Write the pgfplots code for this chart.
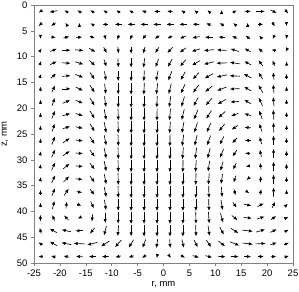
\documentclass[border=0pt]{standalone}
\usepackage{fontspec}
\setmainfont{Liberation Sans}
\usepackage{pgfplots}
\pgfplotsset{compat=1.18}
\usetikzlibrary{arrows.meta}
\begin{document}
\begin{tikzpicture}
\begin{axis}[name=ax, scale only axis, width=259bp, height=258bp,
  xmin=-25, xmax=25, ymin=0, ymax=50, y dir=reverse,
  xtick={-25,-20,...,25}, ytick={0,5,...,50},
  tick align=outside, xtick pos=bottom, ytick pos=left, major tick length=3bp,
  axis line style={gray, line width=0.6bp}, every tick/.style={gray, line width=0.6bp},
  tick label style={font=\fontsize{9.5}{11}\selectfont, /pgf/number format/assume math mode=true},
  xlabel={r, mm}, ylabel={z, mm},
  label style={font=\fontsize{9.5}{11}\selectfont},
  xlabel style={at={(axis description cs:0.5,-0.085)}, anchor=center},
  ylabel style={at={(axis description cs:-0.112,0.5)}, anchor=center},
]
\addplot[black, line width=0.65bp, -{Latex[length=4bp,width=3.4bp]},
  quiver={u=\thisrow{u}, v=\thisrow{v}}]
  table[x expr=\thisrow{r}-0.5*\thisrow{u}, y expr=\thisrow{z}-0.5*\thisrow{v}] {
r z u v
-23.75 1.25 -0.7 0.5
-21.25 1.25 -1.5 0.3
-18.75 1.25 -0.8 -0.4
-16.25 1.25 -0.8 -0.4
-13.75 1.25 -0.8 -0.45
-11.25 1.25 -0.8 -0.4
-8.75 1.25 -0.8 -0.4
-6.25 1.25 -0.8 -0.4
-3.75 1.25 -0.9 -0.3
-1.25 1.25 -1.2 -0.05
1.25 1.25 -1.1 -0.15
3.75 1.25 -0.7 -0.45
6.25 1.25 -0.6 -0.5
8.75 1.25 -0.5 -0.5
11.25 1.25 0.05 -0.6
13.75 1.25 0.8 -0.4
16.25 1.25 1.2 -0.1
18.75 1.25 1.6 0
21.25 1.25 1.2 0.6
23.75 1.25 0.6 0.8
-23.75 3.75 -0.7 0.7
-21.25 3.75 -0.9 0.6
-18.75 3.75 -0.4 -0.6
-16.25 3.75 -0.05 -0.6
-13.75 3.75 -0.7 -0.4
-11.25 3.75 -1.1 0
-8.75 3.75 -1.3 0
-6.25 3.75 -1.4 0
-3.75 3.75 -1.4 0
-1.25 3.75 -1.5 0
1.25 3.75 -1.4 0
3.75 3.75 -1.4 0
6.25 3.75 -1.3 -0.1
8.75 3.75 -1.0 -0.4
11.25 3.75 -0.8 -0.5
13.75 3.75 -0.6 -0.5
16.25 3.75 0 -0.6
18.75 3.75 1.0 0
21.25 3.75 0.5 0.8
23.75 3.75 0.05 0.7
-23.75 6.25 0 0.6
-21.25 6.25 0.9 0.1
-18.75 6.25 1.1 -0.3
-16.25 6.25 1.1 -0.1
-13.75 6.25 1.0 0.4
-11.25 6.25 0.2 0.9
-8.75 6.25 -0.3 1.0
-6.25 6.25 -0.4 1.0
-3.75 6.25 -0.6 0.8
-1.25 6.25 -0.9 0.6
1.25 6.25 -1.0 0.5
3.75 6.25 -1.2 0.5
6.25 6.25 -1.4 0.3
8.75 6.25 -1.5 0
11.25 6.25 -1.3 -0.15
13.75 6.25 -1.0 -0.45
16.25 6.25 -0.8 -0.6
18.75 6.25 -0.6 -0.6
21.25 6.25 -0.3 0.7
23.75 6.25 -0.1 0.7
-23.75 8.75 0.4 -0.7
-21.25 8.75 1.3 -0.5
-18.75 8.75 1.6 0
-16.25 8.75 1.6 0.15
-13.75 8.75 1.2 0.7
-11.25 8.75 0.6 1.1
-8.75 8.75 0.15 1.3
-6.25 8.75 0 1.4
-3.75 8.75 -0.4 1.3
-1.25 8.75 -0.7 1.1
1.25 8.75 -1.0 1.1
3.75 8.75 -1.2 0.9
6.25 8.75 -1.6 0.5
8.75 8.75 -1.9 0.2
11.25 8.75 -1.9 -0.1
13.75 8.75 -1.6 -0.5
16.25 8.75 -1.2 -0.7
18.75 8.75 -0.8 -0.8
21.25 8.75 -0.8 -0.2
23.75 8.75 -0.3 0.6
-23.75 11.25 0.3 -0.8
-21.25 11.25 1.3 -0.6
-18.75 11.25 1.6 0.1
-16.25 11.25 1.6 0.5
-13.75 11.25 1.1 1.0
-11.25 11.25 0.5 1.4
-8.75 11.25 0.1 1.7
-6.25 11.25 0 1.8
-3.75 11.25 -0.2 1.8
-1.25 11.25 -0.6 1.6
1.25 11.25 -0.8 1.5
3.75 11.25 -1.1 1.3
6.25 11.25 -1.5 0.9
8.75 11.25 -1.9 0.5
11.25 11.25 -2.1 0.1
13.75 11.25 -1.9 -0.3
16.25 11.25 -1.3 -0.7
18.75 11.25 -0.8 -1.1
21.25 11.25 -0.4 -1.0
23.75 11.25 -0.05 -0.6
-23.75 13.75 0.3 -0.8
-21.25 13.75 1.0 -0.9
-18.75 13.75 1.6 -0.15
-16.25 13.75 1.5 0.6
-13.75 13.75 0.9 1.3
-11.25 13.75 0.3 1.8
-8.75 13.75 0 2.0
-6.25 13.75 0 2.1
-3.75 13.75 -0.1 2.1
-1.25 13.75 -0.4 2.0
1.25 13.75 -0.7 1.8
3.75 13.75 -0.9 1.6
6.25 13.75 -1.2 1.3
8.75 13.75 -1.6 0.9
11.25 13.75 -2.0 0.4
13.75 13.75 -2.0 -0.1
16.25 13.75 -1.5 -0.8
18.75 13.75 -0.8 -1.3
21.25 13.75 -0.15 -1.4
23.75 13.75 0 -0.8
-23.75 16.25 0.05 -0.9
-21.25 16.25 0.6 -1.3
-18.75 16.25 1.6 0
-16.25 16.25 1.4 0.7
-13.75 16.25 0.9 1.4
-11.25 16.25 0.25 2.0
-8.75 16.25 0 2.2
-6.25 16.25 0 2.3
-3.75 16.25 -0.1 2.3
-1.25 16.25 -0.25 2.2
1.25 16.25 -0.5 2.0
3.75 16.25 -0.8 1.8
6.25 16.25 -1.1 1.5
8.75 16.25 -1.4 1.2
11.25 16.25 -1.8 0.7
13.75 16.25 -1.9 0.1
16.25 16.25 -1.4 -0.8
18.75 16.25 -0.8 -1.5
21.25 16.25 -0.15 -1.7
23.75 16.25 0 -0.9
-23.75 18.75 0 -0.8
-21.25 18.75 0.5 -1.5
-18.75 18.75 1.4 -0.6
-16.25 18.75 1.4 0.6
-13.75 18.75 0.9 1.5
-11.25 18.75 0.3 2.1
-8.75 18.75 0 2.3
-6.25 18.75 0 2.4
-3.75 18.75 0 2.4
-1.25 18.75 -0.1 2.3
1.25 18.75 -0.3 2.2
3.75 18.75 -0.6 2.0
6.25 18.75 -0.9 1.7
8.75 18.75 -1.2 1.4
11.25 18.75 -1.6 0.9
13.75 18.75 -1.7 0.15
16.25 18.75 -1.3 -0.8
18.75 18.75 -0.7 -1.6
21.25 18.75 -0.15 -1.8
23.75 18.75 0 -0.9
-23.75 21.25 0 -0.8
-21.25 21.25 0.6 -1.5
-18.75 21.25 1.5 -0.45
-16.25 21.25 1.4 0.45
-13.75 21.25 0.9 1.5
-11.25 21.25 0.4 2.1
-8.75 21.25 0.05 2.3
-6.25 21.25 0 2.4
-3.75 21.25 0 2.4
-1.25 21.25 -0.05 2.4
1.25 21.25 -0.2 2.3
3.75 21.25 -0.5 2.1
6.25 21.25 -0.8 1.9
8.75 21.25 -1.0 1.6
11.25 21.25 -1.3 1.2
13.75 21.25 -1.4 0.5
16.25 21.25 -1.3 -0.4
18.75 21.25 -0.6 -1.6
21.25 21.25 -0.1 -1.9
23.75 21.25 0 -1.0
-23.75 23.75 0 -0.8
-21.25 23.75 0.5 -1.5
-18.75 23.75 1.4 -0.45
-16.25 23.75 1.4 0.3
-13.75 23.75 0.9 1.5
-11.25 23.75 0.4 2.1
-8.75 23.75 0.05 2.3
-6.25 23.75 0 2.4
-3.75 23.75 0 2.4
-1.25 23.75 0 2.4
1.25 23.75 -0.15 2.3
3.75 23.75 -0.4 2.2
6.25 23.75 -0.6 2.0
8.75 23.75 -0.8 1.8
11.25 23.75 -1.1 1.4
13.75 23.75 -1.2 0.8
16.25 23.75 -1.2 -0.1
18.75 23.75 -0.5 -1.5
21.25 23.75 -0.05 -1.9
23.75 23.75 0 -1.0
-23.75 26.25 0 -0.8
-21.25 26.25 0.6 -1.6
-18.75 26.25 1.3 -0.9
-16.25 26.25 1.4 0.15
-13.75 26.25 0.9 1.4
-11.25 26.25 0.4 2.0
-8.75 26.25 0.05 2.3
-6.25 26.25 0 2.4
-3.75 26.25 0 2.4
-1.25 26.25 0 2.4
1.25 26.25 -0.05 2.4
3.75 26.25 -0.3 2.3
6.25 26.25 -0.5 2.1
8.75 26.25 -0.7 1.9
11.25 26.25 -0.8 1.6
13.75 26.25 -1.0 1.0
16.25 26.25 -1.1 0
18.75 26.25 -0.4 -1.4
21.25 26.25 0 -1.9
23.75 26.25 0 -1.0
-23.75 28.75 0.15 -0.8
-21.25 28.75 0.7 -1.5
-18.75 28.75 1.3 -0.9
-16.25 28.75 1.4 0.15
-13.75 28.75 0.9 1.3
-11.25 28.75 0.4 2.0
-8.75 28.75 0.05 2.3
-6.25 28.75 0 2.4
-3.75 28.75 0 2.4
-1.25 28.75 0 2.4
1.25 28.75 0 2.4
3.75 28.75 -0.15 2.3
6.25 28.75 -0.3 2.2
8.75 28.75 -0.5 2.0
11.25 28.75 -0.7 1.7
13.75 28.75 -0.8 1.2
16.25 28.75 -1.0 0
18.75 28.75 -0.3 -1.4
21.25 28.75 0 -1.8
23.75 28.75 0 -1.0
-23.75 31.25 0.15 -0.8
-21.25 31.25 0.7 -1.5
-18.75 31.25 1.2 -1.0
-16.25 31.25 1.4 0.15
-13.75 31.25 0.9 1.2
-11.25 31.25 0.4 2.0
-8.75 31.25 0.05 2.3
-6.25 31.25 0 2.4
-3.75 31.25 0 2.4
-1.25 31.25 0 2.4
1.25 31.25 0 2.4
3.75 31.25 -0.05 2.4
6.25 31.25 -0.15 2.3
8.75 31.25 -0.3 2.1
11.25 31.25 -0.5 1.8
13.75 31.25 -0.6 1.3
16.25 31.25 -0.7 0.15
18.75 31.25 -0.15 -1.3
21.25 31.25 0 -1.8
23.75 31.25 0 -1.0
-23.75 33.75 0.1 -0.8
-21.25 33.75 0.7 -1.5
-18.75 33.75 1.1 -1.1
-16.25 33.75 1.3 0.15
-13.75 33.75 0.9 1.2
-11.25 33.75 0.4 2.0
-8.75 33.75 0.05 2.3
-6.25 33.75 0 2.4
-3.75 33.75 0 2.4
-1.25 33.75 0 2.4
1.25 33.75 0 2.4
3.75 33.75 0 2.4
6.25 33.75 -0.05 2.3
8.75 33.75 -0.15 2.2
11.25 33.75 -0.3 1.9
13.75 33.75 -0.4 1.3
16.25 33.75 -0.4 0.4
18.75 33.75 0 -1.2
21.25 33.75 0 -1.8
23.75 33.75 0 -0.9
-23.75 36.25 0 -0.8
-21.25 36.25 0.6 -1.5
-18.75 36.25 0.9 -1.3
-16.25 36.25 1.1 0.15
-13.75 36.25 0.8 1.1
-11.25 36.25 0.4 2.0
-8.75 36.25 0.05 2.3
-6.25 36.25 0 2.4
-3.75 36.25 0 2.4
-1.25 36.25 0 2.4
1.25 36.25 0 2.4
3.75 36.25 0 2.4
6.25 36.25 0 2.4
8.75 36.25 0.05 2.3
11.25 36.25 0.15 2.0
13.75 36.25 0.3 1.2
16.25 36.25 0.6 0.4
18.75 36.25 0.3 -1.1
21.25 36.25 0.05 -1.8
23.75 36.25 0 -0.9
-23.75 38.75 0 -0.9
-21.25 38.75 0.4 -1.6
-18.75 38.75 0.15 -1.3
-16.25 38.75 0.8 0.3
-13.75 38.75 0.6 1.3
-11.25 38.75 0.3 2.0
-8.75 38.75 0 2.3
-6.25 38.75 0 2.4
-3.75 38.75 0 2.4
-1.25 38.75 0 2.4
1.25 38.75 0 2.4
3.75 38.75 0 2.4
6.25 38.75 0 2.4
8.75 38.75 0.05 2.3
11.25 38.75 0.3 2.0
13.75 38.75 0.7 1.0
16.25 38.75 1.4 0.3
18.75 38.75 1.2 -0.6
21.25 38.75 0.6 -1.2
23.75 38.75 0.5 -0.5
-23.75 41.25 -0.05 -1.2
-21.25 41.25 -0.4 -1.1
-18.75 41.25 -0.9 -0.9
-16.25 41.25 -0.6 0.3
-13.75 41.25 -0.15 1.4
-11.25 41.25 0 2.0
-8.75 41.25 0 2.3
-6.25 41.25 0 2.4
-3.75 41.25 0 2.4
-1.25 41.25 0 2.4
1.25 41.25 0 2.4
3.75 41.25 0 2.4
6.25 41.25 0.05 2.3
8.75 41.25 0.15 2.2
11.25 41.25 0.5 1.8
13.75 41.25 1.1 0.9
16.25 41.25 1.6 0.15
18.75 41.25 1.5 -0.5
21.25 41.25 1.0 -0.7
23.75 41.25 0.7 -0.3
-23.75 43.75 -0.3 -1.1
-21.25 43.75 -1.4 -0.8
-18.75 43.75 -1.8 -0.4
-16.25 43.75 -1.5 0
-13.75 43.75 -0.9 1.1
-11.25 43.75 -0.45 1.8
-8.75 43.75 -0.15 2.1
-6.25 43.75 0 2.2
-3.75 43.75 0 2.3
-1.25 43.75 0 2.3
1.25 43.75 0 2.3
3.75 43.75 0 2.3
6.25 43.75 0.1 2.2
8.75 43.75 0.3 2.0
11.25 43.75 0.8 1.5
13.75 43.75 1.4 0.9
16.25 43.75 2.0 0.25
18.75 43.75 1.7 -0.5
21.25 43.75 1.2 -0.6
23.75 43.75 0.8 -0.4
-23.75 46.25 -0.8 -0.5
-21.25 46.25 -1.4 -0.8
-18.75 46.25 -1.9 -0.4
-16.25 46.25 -2.2 -0.1
-13.75 46.25 -2.0 0.5
-11.25 46.25 -1.6 1.0
-8.75 46.25 -1.2 1.4
-6.25 46.25 -0.9 1.5
-3.75 46.25 -0.6 1.6
-1.25 46.25 -0.25 1.7
1.25 46.25 0.1 1.7
3.75 46.25 0.4 1.6
6.25 46.25 0.7 1.4
8.75 46.25 0.9 1.3
11.25 46.25 1.3 1.0
13.75 46.25 1.8 0.7
16.25 46.25 2.0 0.25
18.75 46.25 1.9 -0.1
21.25 46.25 1.2 -0.4
23.75 46.25 0.9 -0.4
-23.75 48.75 -0.8 0
-21.25 48.75 -0.9 -0.25
-18.75 48.75 -1.1 -0.25
-16.25 48.75 -1.3 -0.1
-13.75 48.75 -1.3 0
-11.25 48.75 -1.3 0.05
-8.75 48.75 -1.1 0.25
-6.25 48.75 -1.0 0.3
-3.75 48.75 -0.8 0.5
-1.25 48.75 -0.15 0.6
1.25 48.75 0.4 0.5
3.75 48.75 0.8 0.45
6.25 48.75 1.2 0.4
8.75 48.75 1.3 0.35
11.25 48.75 1.5 0.1
13.75 48.75 1.5 0.05
16.25 48.75 1.3 0
18.75 48.75 1.2 0
21.25 48.75 1.0 -0.1
23.75 48.75 0.9 -0.25
};
\end{axis}
\pgfresetboundingbox
\path (ax.south west) ++(-34bp,-28bp) rectangle (ax.north east) ++(6bp,5bp);
\end{tikzpicture}
\end{document}
